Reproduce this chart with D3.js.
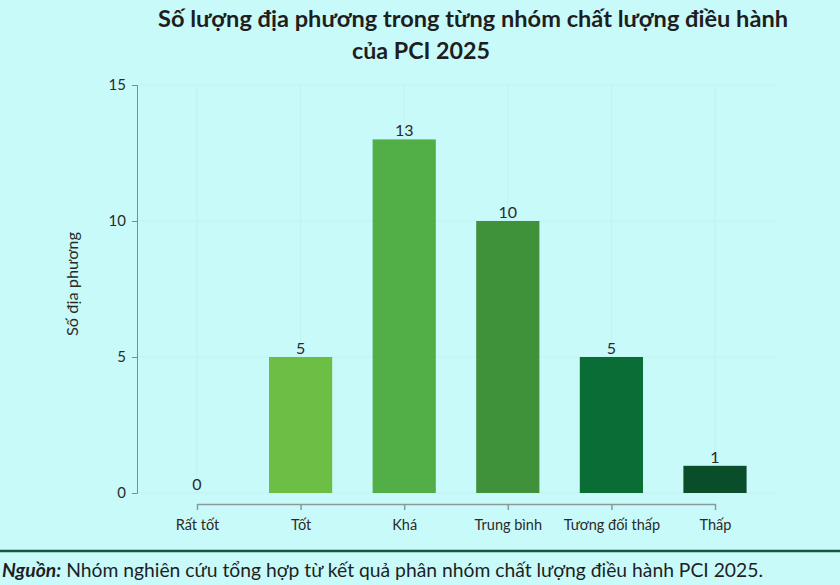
<!DOCTYPE html>
<html>
<head>
<meta charset="utf-8">
<script src="https://cdn.jsdelivr.net/npm/d3@7"></script>
<style>
  html, body { margin: 0; padding: 0; background: #c9fafa; }
  svg { display: block; }
  text { font-family: Lato, "Noto Sans", sans-serif; }
</style>
</head>
<body>
<svg id="chart" width="840" height="585"></svg>
<script>
// ----------- DATA ------------
const categories = ["Rất tốt", "Tốt", "Khá", "Trung bình", "Tương đối thấp", "Thấp"];
const counts = [0, 5, 13, 10, 5, 1];
const barColors = ["#6cbf44", "#6cbf44", "#52ae46", "#3f923a", "#0a6d35", "#0a4d2a"];
const yTicks = [0, 5, 10, 15];
const titleLines = ["Số lượng địa phương trong từng nhóm chất lượng điều hành", "của PCI 2025"];
const yLabel = "Số địa phương";
const sourceLabel = "Nguồn:";
const sourceText = " Nhóm nghiên cứu tổng hợp từ kết quả phân nhóm chất lượng điều hành PCI 2025.";

// ----------- LAYOUT ------------
const svg = d3.select("#chart");
const plotLeft = 137, plotRight = 775, plotTop = 85, plotBottom = 493;
const xAxisY = 504;

svg.append("rect").attr("width", 840).attr("height", 585).attr("fill", "#c9fafa");

// scales
const x = d3.scalePoint().domain(categories).range([197, 715]);
const barWidth = x.step() * 0.61;
const y = d3.scaleLinear().domain([0, 15]).range([plotBottom, plotTop]);

// very faint grid
const grid = svg.append("g").attr("stroke", "#c1f2f1").attr("stroke-width", 1);
grid.selectAll(".hg").data(yTicks).join("line")
  .attr("x1", plotLeft).attr("x2", plotRight)
  .attr("y1", d => y(d)).attr("y2", d => y(d));
grid.selectAll(".vg").data(categories).join("line")
  .attr("x1", d => x(d)).attr("x2", d => x(d))
  .attr("y1", plotTop).attr("y2", plotBottom);

// y axis
const yAxis = svg.append("g")
  .attr("transform", `translate(${plotLeft},0)`)
  .call(d3.axisLeft(y).tickValues(yTicks).tickSize(5).tickPadding(6));
yAxis.select(".domain").attr("stroke", "#7d8c8c");
yAxis.selectAll(".tick line").attr("stroke", "#7d8c8c");
yAxis.selectAll(".tick text").attr("font-size", 15).attr("fill", "#2a2a2a")
  .attr("font-family", "Lato, sans-serif");

// x axis
const xAxis = svg.append("g")
  .attr("transform", `translate(0,${xAxisY})`)
  .call(d3.axisBottom(x).tickSize(6).tickSizeOuter(0).tickPadding(10));
xAxis.select(".domain").attr("stroke", "#8a9999").attr("stroke-width", 1.5);
xAxis.selectAll(".tick line").attr("stroke", "#8a9999").attr("stroke-width", 1.5);
xAxis.selectAll(".tick text").attr("font-size", 14.5).attr("fill", "#2a2a2a")
  .attr("font-family", "Lato, sans-serif");

// bars
svg.selectAll(".bar").data(counts).join("rect")
  .attr("class", "bar")
  .attr("x", (d, i) => x(categories[i]) - barWidth / 2)
  .attr("y", d => y(d))
  .attr("width", barWidth)
  .attr("height", d => plotBottom - y(d))
  .attr("fill", (d, i) => barColors[i]);

// value labels
svg.selectAll(".val").data(counts).join("text")
  .attr("x", (d, i) => x(categories[i]))
  .attr("y", d => y(d) - 3)
  .attr("text-anchor", "middle")
  .attr("font-size", 16)
  .attr("fill", "#2a2a2a")
  .text(d => d);

// y label
svg.append("text")
  .attr("transform", "translate(78,284) rotate(-90)")
  .attr("text-anchor", "middle")
  .attr("font-size", 15)
  .attr("fill", "#2a2a2a")
  .attr("textLength", 104).attr("lengthAdjust", "spacingAndGlyphs")
  .text(yLabel);

// title
svg.append("text")
  .attr("x", 158).attr("y", 27)
  .attr("font-size", 22).attr("font-weight", "bold").attr("fill", "#1e1e1e")
  .attr("textLength", 630).attr("lengthAdjust", "spacingAndGlyphs")
  .text(titleLines[0]);
svg.append("text")
  .attr("x", 352).attr("y", 59)
  .attr("font-size", 22).attr("font-weight", "bold").attr("fill", "#1e1e1e")
  .attr("textLength", 138).attr("lengthAdjust", "spacingAndGlyphs")
  .text(titleLines[1]);

// footer
svg.append("line")
  .attr("x1", 0).attr("x2", 840).attr("y1", 551).attr("y2", 551)
  .attr("stroke", "#17573f").attr("stroke-width", 2.5);
const foot = svg.append("text")
  .attr("x", 2).attr("y", 577)
  .attr("font-size", 19).attr("fill", "#1e1e1e")
  .attr("textLength", 761).attr("lengthAdjust", "spacingAndGlyphs");
foot.append("tspan").attr("font-weight", "bold").attr("font-style", "italic").text(sourceLabel);
foot.append("tspan").text(sourceText);
</script>
</body>
</html>
